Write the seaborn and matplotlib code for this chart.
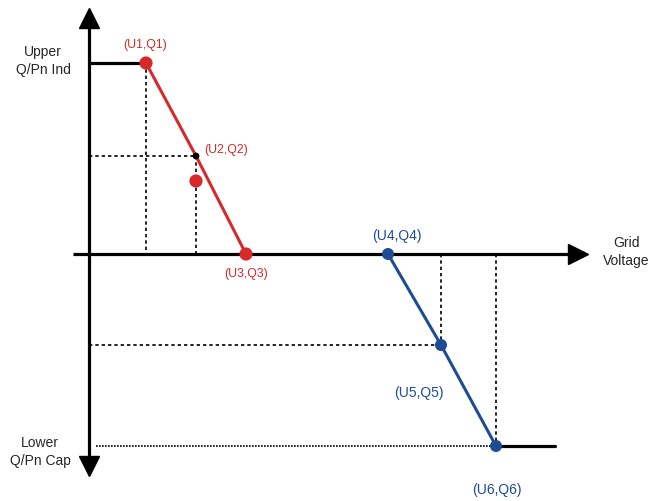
import matplotlib
matplotlib.use("Agg")
import matplotlib.pyplot as plt
import seaborn as sns
import pandas as pd

# ===================== Data =====================
# Q(U) characteristic, axis origin at (0, 0)
u_red = [57, 107, 157]          # U1, U2, U3
q_red = [191, 98, 0]            # Q1, Q2, Q3
u_blue = [299, 352, 407]        # U4, U5, U6
q_blue = [0, -91, -192]         # Q4, Q5, Q6
red_labels = ["(U1,Q1)", "(U2,Q2)", "(U3,Q3)"]
blue_labels = ["(U4,Q4)", "(U5,Q5)", "(U6,Q6)"]
u2_actual, q2_actual = 107, 73  # red dot below U2,Q2
u_end = 466                     # end of lower limit line

RED = "#d7282a"
BLUE = "#1e4b96"

sns.set_theme(style="white")
plt.rcParams["font.family"] = ["Liberation Sans", "DejaVu Sans"]

fig = plt.figure(figsize=(6.52, 5.01), dpi=100)
ax = fig.add_axes([0, 0, 1, 1])
ax.set_xlim(-89, 563)
ax.set_ylim(-247, 254)
ax.axis("off")

# ===================== Axes with arrows =====================
ax.plot([0, 0], [226, -205], color="black", lw=2.3, solid_capstyle="butt")
ax.plot([0], [236], marker="^", ms=14.5, color="black")
ax.plot([0], [-212], marker="v", ms=14.5, color="black")
ax.plot([-16, 480], [0, 0], color="black", lw=2.3, solid_capstyle="butt")
ax.plot([489], [0], marker=">", ms=14.5, color="black")

# limit lines
ax.plot([0, u_red[0]], [q_red[0], q_red[0]], color="black", lw=2.3)
ax.plot([u_blue[-1], u_end], [q_blue[-1], q_blue[-1]], color="black", lw=2.3)

# ===================== Helper dotted lines =====================
dot = dict(color="black", lw=1.2, ls=(0, (2, 1.8)))
ax.plot([u_red[0], u_red[0]], [q_red[0], 0], **dot)
ax.plot([u_red[1], u_red[1]], [q_red[1], 0], **dot)
ax.plot([0, u_red[1]], [q_red[1], q_red[1]], **dot)
ax.plot([u_blue[1], u_blue[1]], [0, q_blue[1]], **dot)
ax.plot([0, u_blue[1]], [q_blue[1], q_blue[1]], **dot)
ax.plot([u_blue[2], u_blue[2]], [0, q_blue[2]], **dot)
ax.plot([7, u_blue[2]], [q_blue[2], q_blue[2]], color="black", lw=1.2, ls=(0, (1, 0.8)))

# ===================== Characteristic lines =====================
red_df = pd.DataFrame({"U": u_red, "Q": q_red})
blue_df = pd.DataFrame({"U": u_blue, "Q": q_blue})
sns.lineplot(data=red_df, x="U", y="Q", sort=False, color=RED, lw=2.2, ax=ax)
sns.lineplot(data=blue_df, x="U", y="Q", sort=False, color=BLUE, lw=2.2, ax=ax)

sns.scatterplot(x=[u_red[0], u_red[2], u2_actual], y=[q_red[0], q_red[2], q2_actual],
                color=RED, s=90, edgecolor="none", ax=ax, zorder=5)
sns.scatterplot(x=[u_red[1]], y=[q_red[1]], color="black", s=24, edgecolor="none", ax=ax, zorder=6)
sns.scatterplot(x=u_blue, y=q_blue, color=BLUE, s=75, edgecolor="none", ax=ax, zorder=5)

# ===================== Labels =====================
red_pos = [(56, 209), (137, 104), (157, -20)]
for (x, y), t in zip(red_pos, red_labels):
    ax.text(x, y, t, color=RED, fontsize=8.8, ha="center", va="center")
blue_pos = [(308, 18), (330, -139), (408, -236)]
for (x, y), t in zip(blue_pos, blue_labels):
    ax.text(x, y, t, color=BLUE, fontsize=10, ha="center", va="center")

ax.text(-46, 193, "Upper\nQ/Pn Ind", fontsize=10, ha="center", va="center", linespacing=1.45)
ax.text(-49, -198, "Lower\nQ/Pn Cap", fontsize=10, ha="center", va="center", linespacing=1.45)
ax.text(537, 2, "Grid\nVoltage", fontsize=10, ha="center", va="center", linespacing=1.35)

fig.savefig("out.png", dpi=100, facecolor="white")
